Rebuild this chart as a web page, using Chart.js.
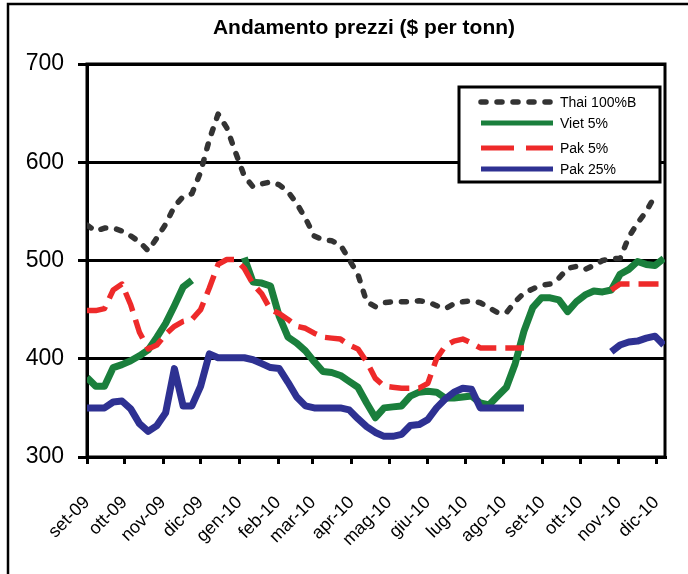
<!DOCTYPE html>
<html>
<head>
<meta charset="utf-8">
<script src="https://cdn.jsdelivr.net/npm/chart.js@4.4.0/dist/chart.umd.min.js"></script>
<style>
html,body{margin:0;padding:0;background:#fff;}
#wrap{width:688px;height:574px;position:relative;}
</style>
</head>
<body>
<div id="wrap"><canvas id="c" width="688" height="574"></canvas></div>
<script>
// ---- data ----
const titleText = 'Andamento prezzi ($ per tonn)';
const monthLabels = ['set-09','ott-09','nov-09','dic-09','gen-10','feb-10','mar-10','apr-10','mag-10','giu-10','lug-10','ago-10','set-10','ott-10','nov-10','dic-10'];
const monthStartDays = [0,30,61,91,122,153,181,212,242,273,303,334,365,395,426,456];
const yTicks = [300,400,500,600,700];
const seriesNames = ['Thai 100%B','Viet 5%','Pak 5%','Pak 25%'];
// weekly prices (one value per week from the start of set-09)
const thai = [536,530,533,533,530,525,519,510,523,537,
              555,565,568,590,623,649,635,610,586,575,
              578,580,577,570,558,543,525,521,520,516,
              501,486,458,453,457,458,458,458,459,458,
              454,451,456,458,459,457,452,447,447,458,
              467,471,475,476,482,492,494,491,495,500,
              502,502,524,538,550,566,null];
const viet = [381,372,372,391,394,398,403,409,422,436,
              454,473,480,null,null,null,null,null,503,478,
              477,474,443,422,416,408,397,387,386,383,
              377,371,355,340,350,351,352,362,366,367,
              366,360,360,361,362,355,353,362,371,395,
              428,452,462,462,460,448,458,465,469,468,
              470,486,491,499,496,495,502];
const pak5 = [449,449,451,470,476,455,427,410,414,425,
              433,438,440,450,472,496,501,501,492,476,
              466,450,446,440,433,431,426,422,421,420,
              414,410,397,380,372,371,370,370,370,375,
              400,413,418,420,416,411,411,411,411,411,
              411,null,null,null,null,null,null,null,null,null,
              470,476,476,476,476,476,476];
const pak25 = [350,350,350,356,357,349,334,326,332,345,
               390,352,352,372,405,401,401,401,401,399,
               395,391,390,376,361,352,350,350,350,350,
               348,339,331,325,321,321,323,332,333,338,
               350,359,366,370,369,350,350,350,350,350,
               350,null,null,null,null,null,null,null,null,null,
               407,414,417,418,421,423,414];

const toPoints = arr => arr.map((v, i) => ({ x: i * 7, y: v }));

Chart.defaults.font.family = "'Liberation Sans', Arial, sans-serif";
Chart.defaults.color = '#000';

const framePlugin = {
  id: 'frame',
  afterLayout(chart) {
    // centre the title over the span used by the original figure
    const t = chart.titleBlock;
    if (t) { t.left = 63; t.right = chart.chartArea.right; t.width = t.right - t.left; }
  },
  beforeDraw(chart) {
    const ctx = chart.ctx;
    ctx.save();
    ctx.fillStyle = '#fff';
    ctx.fillRect(0, 0, chart.width, chart.height);
    ctx.strokeStyle = '#000';
    ctx.lineWidth = 2.5;
    ctx.beginPath();
    ctx.moveTo(8, chart.height);
    ctx.lineTo(8, 4);
    ctx.lineTo(chart.width, 4);
    ctx.stroke();
    ctx.restore();
  },
  beforeDatasetsDraw(chart) {
    const { left, top, right, bottom } = chart.chartArea;
    const ctx = chart.ctx;
    ctx.save();
    ctx.strokeStyle = '#000';
    ctx.lineWidth = 3;
    ctx.strokeRect(left, top, right - left, bottom - top);
    ctx.restore();
  }
};

const legendPlugin = {
  id: 'boxLegend',
  afterDraw(chart) {
    const ctx = chart.ctx;
    const ca = chart.chartArea;
    const bx = ca.right - 206, by = ca.top + 23, bw = 201, bh = 95;
    ctx.save();
    ctx.fillStyle = '#fff';
    ctx.fillRect(bx, by, bw, bh);
    ctx.strokeStyle = '#000';
    ctx.lineWidth = 3;
    ctx.strokeRect(bx, by, bw, bh);
    const rows = [15, 36, 61, 82];
    const legendDash = [[5, 11], [], [33, 12], []];
    chart.data.datasets.forEach((ds, i) => {
      const y = by + rows[i];
      ctx.save();
      ctx.strokeStyle = ds.borderColor;
      ctx.lineWidth = i === 0 ? 5.5 : 5;
      ctx.lineCap = ds.borderCapStyle || 'butt';
      ctx.setLineDash(legendDash[i]);
      ctx.beginPath();
      ctx.moveTo(bx + 22, y);
      ctx.lineTo(bx + 94, y);
      ctx.stroke();
      ctx.restore();
      ctx.fillStyle = '#000';
      ctx.font = "14px 'Liberation Sans', Arial, sans-serif";
      ctx.textBaseline = 'middle';
      ctx.textAlign = 'left';
      ctx.fillText(ds.label, bx + 101, y + 1);
    });
    ctx.restore();
  }
};

new Chart(document.getElementById('c'), {
  type: 'line',
  data: {
    datasets: [
      { label: seriesNames[0], data: toPoints(thai), borderColor: '#333333', borderWidth: 5.5,
        borderDash: [5, 11], borderCapStyle: 'round', borderJoinStyle: 'round', order: 3 },
      { label: seriesNames[1], data: toPoints(viet), borderColor: '#1A7F3C', borderWidth: 7,
        borderCapStyle: 'butt', borderJoinStyle: 'round', order: 2 },
      { label: seriesNames[2], data: toPoints(pak5), borderColor: '#EE2A2A', borderWidth: 5.5,
        borderDash: [20, 9], borderCapStyle: 'butt', borderJoinStyle: 'round', order: 1 },
      { label: seriesNames[3], data: toPoints(pak25), borderColor: '#2E3192', borderWidth: 7,
        borderCapStyle: 'butt', borderJoinStyle: 'round', order: 0 }
    ]
  },
  options: {
    responsive: false,
    animation: false,
    spanGaps: false,
    elements: { point: { radius: 0, hoverRadius: 0 }, line: { tension: 0, fill: false } },
    layout: { padding: { left: 0, right: 23, top: 0, bottom: 0 } },
    plugins: {
      legend: { display: false },
      tooltip: { enabled: false },
      title: {
        display: true, text: titleText, color: '#000',
        font: { size: 21, weight: 'bold' }, lineHeight: 1.2,
        padding: { top: 16, bottom: 22.8 }
      }
    },
    scales: {
      x: {
        type: 'linear', min: 0, max: 463,
        afterBuildTicks: s => { s.ticks = monthStartDays.map(v => ({ value: v })); },
        afterFit: s => { s.height = 117; s.paddingLeft = 0; s.paddingRight = 0; },
        ticks: {
          autoSkip: false, maxRotation: 45, minRotation: 45, color: '#000',
          font: { size: 18 }, padding: 28,
          callback: (v, i) => monthLabels[i]
        },
        grid: { drawOnChartArea: false, drawTicks: true, tickLength: 7, color: '#000', lineWidth: 3 },
        border: { color: '#000', width: 3 }
      },
      y: {
        min: 300, max: 700,
        afterBuildTicks: s => { s.ticks = yTicks.map(v => ({ value: v })); },
        afterFit: s => { s.width = 87; },
        ticks: { color: '#000', font: { size: 23 }, padding: 14 },
        grid: { color: '#000', lineWidth: 3, tickLength: 9 },
        border: { color: '#000', width: 3 }
      }
    }
  },
  plugins: [framePlugin, legendPlugin]
});
</script>
</body>
</html>
